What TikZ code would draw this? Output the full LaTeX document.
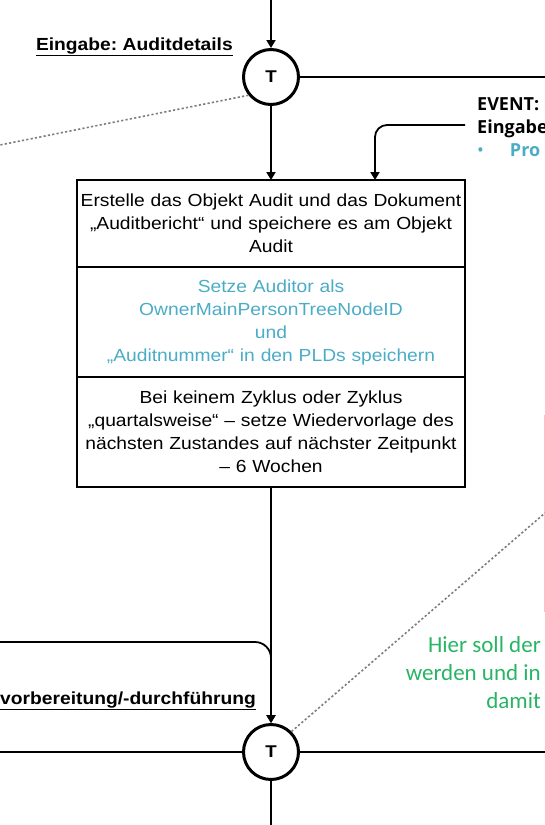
\documentclass[tikz,border=0pt]{standalone}
\usepackage{fontspec}
\setmainfont{Liberation Sans}[FakeStretch=1.1]
\newfontfamily\notefont{Carlito}
\newfontfamily\eventfont{Open Sans}
\definecolor{auditblue}{RGB}{75, 172, 198}
\definecolor{notegreen}{RGB}{40, 180, 100}
\definecolor{dotgray}{RGB}{125, 125, 125}
\usetikzlibrary{arrows.meta, positioning, calc}
\frenchspacing

\begin{document}
\begin{tikzpicture}[x=1pt, y=-1pt,
  flow/.style={line width=1.8pt},
  arr/.style={flow, -{Triangle[length=8pt, width=9pt]}},
  dots/.style={dotgray, line width=1.6pt, dash pattern=on 2.2pt off 2.2pt},
  gate/.style={circle, draw, line width=3pt, minimum size=55pt, inner sep=0pt, font=\fontsize{17}{17}\selectfont\bfseries},
  part/.style={draw, line width=2pt, outer sep=0pt, minimum width=388pt, text width=386pt, inner xsep=1pt, align=center, font=\fontsize{17.5}{23}\selectfont},
  lbl/.style={font=\fontsize{17.5}{20}\selectfont\bfseries}]
  \useasboundingbox (0,0) rectangle (545,825);

  % Gates
  \node[gate] (t1) at (271,77) {T};
  \node[gate] (t2) at (271,752) {T};

  % Audit box
  \node[part, minimum height=87pt] (auditA) at (271,223.5) {Erstelle das Objekt Audit und das Dokument\\
    „Auditbericht“ und speichere es am Objekt\\
    Audit};
  \node[part, minimum height=110pt, text=auditblue, below=0pt of auditA] (auditB) {Setze Auditor als\\
    OwnerMainPersonTreeNodeID\\
    und\\
    „Auditnummer“ in den PLDs speichern};
  \node[part, minimum height=110pt, below=0pt of auditB] (auditC) {Bei keinem Zyklus oder Zyklus\\
    „quartalsweise“ – setze Wiedervorlage des\\
    nächsten Zustandes auf nächster Zeitpunkt\\
    – 6 Wochen};

  % Labels
  \node[lbl, anchor=base east, inner sep=0pt] (lblin) at (233,50) {\underline{Eingabe: Auditdetails}};
  \node[lbl, anchor=base east, inner sep=0pt] (lblprep) at (256,704) {\underline{vorbereitung/-durchführung}};

  % Event
  \node[anchor=north west, align=left, inner sep=0pt, font=\eventfont\fontsize{18}{23}\selectfont] (evtxt) at (477,97) {\textbf{EVENT:}\\
    \textbf{Eingabe}\\
    \textcolor{auditblue}{\textbullet\hspace{26pt}\textbf{Pro}}};

  % Note
  \node[anchor=east, align=right, inner sep=0pt, text=notegreen, font=\notefont\fontsize{23}{28}\selectfont] (note) at (541,673) {Hier soll der\\
    werden und in\\
    damit};
  \draw[red!25, line width=0.8pt] (544,415) -- (544,612);

  % Free ends
  \coordinate (topsrc) at (271,0);
  \coordinate (t1e) at (545,77);
  \coordinate (dotW) at (0,145);
  \coordinate (evsrc) at (465,125);
  \coordinate (prepsrc) at (0,642);
  \coordinate (t2w) at (0,752);
  \coordinate (t2e) at (545,752);
  \coordinate (t2s) at (271,825);
  \coordinate (dotE) at (545,513);

  % Connectors
  \draw[arr] (topsrc) -- (t1);
  \draw[flow] (t1) -- (t1e);
  \draw[dots] (t1.219) -- (dotW);
  \draw[arr] (t1) -- (auditA);
  \draw[arr, rounded corners=12pt] (evsrc) -| ([xshift=104pt]auditA.north);
  \draw[arr] (auditC) -- (t2);
  \draw[arr, rounded corners=16pt] (prepsrc) -| (t2.north);
  \draw[flow] (t2w) -- (t2);
  \draw[flow] (t2) -- (t2e);
  \draw[flow] (t2) -- (t2s);
  \draw[dots] (t2.45) -- (dotE);
\end{tikzpicture}
\end{document}
